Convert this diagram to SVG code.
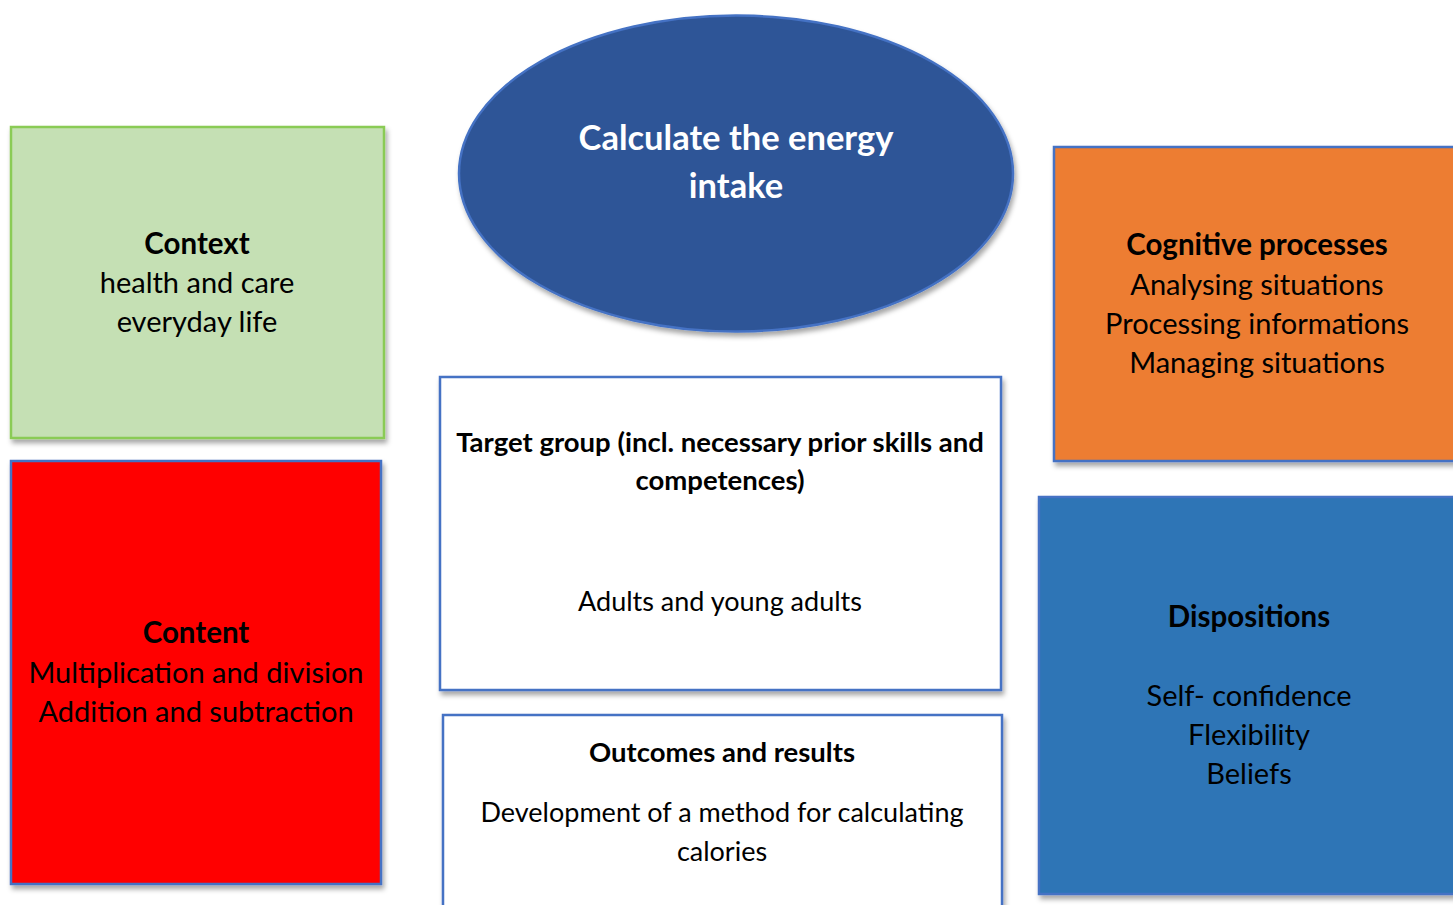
<svg xmlns="http://www.w3.org/2000/svg" width="1453" height="905" viewBox="0 0 1453 905">
  <defs>
    <filter id="shadow" x="-10%" y="-10%" width="125%" height="125%">
      <feDropShadow dx="2" dy="4" stdDeviation="2.5" flood-color="#000" flood-opacity="0.35"/>
    </filter>
    <style>
      .box { stroke-width: 2.5; filter: url(#shadow); }
      .t { font-family: Lato, "Liberation Sans", sans-serif; text-anchor: middle; fill: #000; }
      .h { font-weight: 700; font-size: 29.5px; }
      .l { font-weight: 400; font-size: 29px; }
      .hb { font-weight: 700; font-size: 27.5px; }
      .lb { font-weight: 400; font-size: 27px; }
      .w { fill: #fff; font-weight: 700; font-size: 34.5px; }
    </style>
  </defs>
  <rect width="1453" height="905" fill="#fff"/>

  <g id="goal">
    <ellipse class="box" cx="736" cy="173.5" rx="277" ry="158" fill="#2F5597" stroke="#4472C4"/>
    <text class="t w" x="736" y="150">Calculate the energy</text>
    <text class="t w" x="736" y="198">intake</text>
  </g>

  <g id="context">
    <rect class="box" x="11" y="127" width="373" height="311" fill="#C5E0B4" stroke="#8ACB55"/>
    <text class="t h" x="197" y="254">Context</text>
    <text class="t l" x="197" y="293">health and care</text>
    <text class="t l" x="197" y="332">everyday life</text>
  </g>

  <g id="content">
    <rect class="box" x="11" y="461" width="370" height="423" fill="#FF0000" stroke="#4472C4"/>
    <text class="t h" x="196" y="643">Content</text>
    <text class="t l" x="196" y="683">Multiplication and division</text>
    <text class="t l" x="196" y="722">Addition and subtraction</text>
  </g>

  <g id="target-group">
    <rect class="box" x="440" y="377" width="561" height="313" fill="#fff" stroke="#4472C4"/>
    <text class="t hb" x="720" y="452">Target group (incl. necessary prior skills and</text>
    <text class="t hb" x="720" y="490">competences)</text>
    <text class="t lb" x="720" y="611">Adults and young adults</text>
  </g>

  <g id="outcomes">
    <rect class="box" x="443" y="715" width="559" height="200" fill="#fff" stroke="#4472C4"/>
    <text class="t hb" x="722" y="762">Outcomes and results</text>
    <text class="t lb" x="722" y="822">Development of a method for calculating</text>
    <text class="t lb" x="722" y="861">calories</text>
  </g>

  <g id="cognitive">
    <rect class="box" x="1054" y="147" width="410" height="314" fill="#ED7D31" stroke="#4472C4"/>
    <text class="t h" x="1257" y="255">Cognitive processes</text>
    <text class="t l" x="1257" y="295">Analysing situations</text>
    <text class="t l" x="1257" y="334">Processing informations</text>
    <text class="t l" x="1257" y="373">Managing situations</text>
  </g>

  <g id="dispositions">
    <rect class="box" x="1039" y="497" width="425" height="397" fill="#2E75B6" stroke="#4472C4"/>
    <text class="t h" x="1249" y="627">Dispositions</text>
    <text class="t l" x="1249" y="706">Self- confidence</text>
    <text class="t l" x="1249" y="745">Flexibility</text>
    <text class="t l" x="1249" y="784">Beliefs</text>
  </g>

  <g id="connectors"></g>
</svg>
